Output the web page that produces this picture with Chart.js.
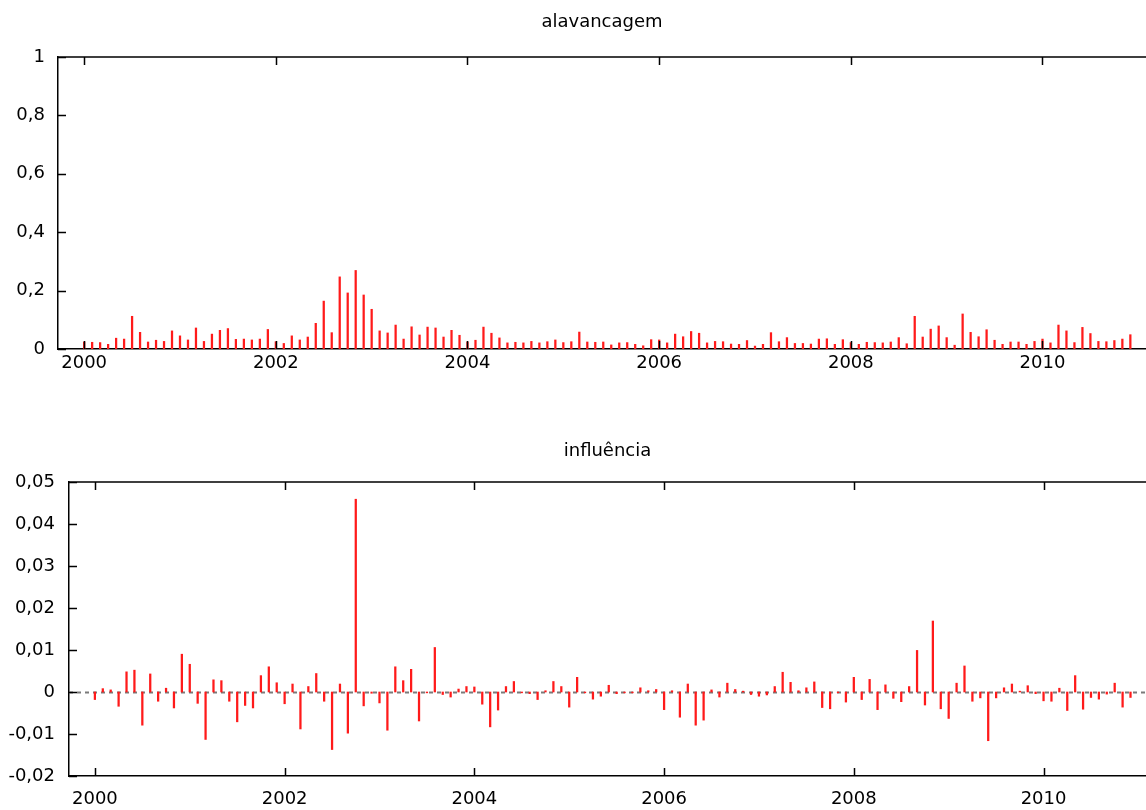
<!DOCTYPE html>
<html>
<head>
<meta charset="utf-8">
<title>alavancagem e influência</title>
<script src="https://cdn.jsdelivr.net/npm/chart.js@4.4.1/dist/chart.umd.min.js"></script>
<style>
  html, body { margin: 0; padding: 0; background: #fff; }
  #wrap { position: relative; width: 1146px; height: 810px; overflow: hidden; }
  canvas { position: absolute; left: 0; }
</style>
</head>
<body>
<div id="wrap">
  <canvas id="lev" width="1146" height="400" style="top:0px"></canvas>
  <canvas id="inf" width="1146" height="410" style="top:400px"></canvas>
</div>
<script>
// Monthly observations, 2000:01 to 2010:12
const startYear = 2000;
const nObs = 132;
const months = Array.from({ length: nObs }, (_, i) => startYear + i / 12);

// Year ticks shared by both panels
const yearTicks = [2000, 2002, 2004, 2006, 2008, 2010];
const yearLabels = ['2000', '2002', '2004', '2006', '2008', '2010'];

// Leverage (alavancagem)
const alavancagem = [
  0.024, 0.023, 0.022, 0.016, 0.037, 0.034, 0.112, 0.057, 0.024, 0.030, 0.026, 0.062,
  0.045, 0.031, 0.072, 0.026, 0.051, 0.064, 0.070, 0.033, 0.034, 0.031, 0.034, 0.067,
  0.025, 0.019, 0.045, 0.031, 0.041, 0.088, 0.164, 0.056, 0.247, 0.192, 0.269, 0.185,
  0.136, 0.062, 0.055, 0.082, 0.034, 0.076, 0.048, 0.075, 0.072, 0.041, 0.064, 0.047,
  0.024, 0.030, 0.075, 0.054, 0.038, 0.021, 0.023, 0.021, 0.026, 0.021, 0.025, 0.031,
  0.022, 0.025, 0.058, 0.024, 0.023, 0.024, 0.014, 0.021, 0.022, 0.016, 0.011, 0.032,
  0.031, 0.021, 0.051, 0.042, 0.060, 0.054, 0.021, 0.026, 0.025, 0.017, 0.016, 0.029,
  0.010, 0.016, 0.056, 0.025, 0.039, 0.019, 0.019, 0.017, 0.034, 0.035, 0.016, 0.032,
  0.022, 0.016, 0.023, 0.022, 0.021, 0.024, 0.039, 0.018, 0.112, 0.041, 0.068, 0.079,
  0.039, 0.013, 0.120, 0.057, 0.042, 0.066, 0.030, 0.016, 0.024, 0.024, 0.016, 0.026,
  0.034, 0.021, 0.082, 0.062, 0.022, 0.074, 0.053, 0.026, 0.025, 0.029, 0.034, 0.049
];

// Influence (influência)
const influencia = [
  -0.0018, 0.0008, 0.0005, -0.0034, 0.0048, 0.0052, -0.0079, 0.0043, -0.0022, 0.0009, -0.0038, 0.0090,
  0.0066, -0.0027, -0.0113, 0.0029, 0.0027, -0.0022, -0.0071, -0.0032, -0.0038, 0.0039, 0.0060, 0.0022,
  -0.0028, 0.0019, -0.0088, 0.0013, 0.0044, -0.0022, -0.0137, 0.0019, -0.0098, 0.0459, -0.0033, -0.0003,
  -0.0026, -0.0091, 0.0060, 0.0027, 0.0054, -0.0069, -0.0002, 0.0106, -0.0006, -0.0012, 0.0007, 0.0013,
  0.0012, -0.0029, -0.0083, -0.0043, 0.0013, 0.0025, -0.0002, -0.0004, -0.0018, 0.0003, 0.0025, 0.0013,
  -0.0036, 0.0035, -0.0002, -0.0017, -0.0010, 0.0016, -0.0004, -0.0002, -0.0002, 0.0010, 0.0003, 0.0006,
  -0.0042, 0.0003, -0.0060, 0.0019, -0.0079, -0.0067, 0.0005, -0.0012, 0.0021, 0.0006, 0.0002, -0.0006,
  -0.0010, -0.0007, 0.0013, 0.0047, 0.0023, 0.0003, 0.0010, 0.0024, -0.0037, -0.0040, -0.0002, -0.0024,
  0.0035, -0.0018, 0.0030, -0.0042, 0.0017, -0.0015, -0.0023, 0.0013, 0.0099, -0.0031, 0.0169, -0.0040,
  -0.0063, 0.0021, 0.0062, -0.0022, -0.0014, -0.0116, -0.0014, 0.0010, 0.0019, 0.0002, 0.0015, -0.0004,
  -0.0021, -0.0022, 0.0009, -0.0044, 0.0039, -0.0041, -0.0013, -0.0017, -0.0005, 0.0021, -0.0036, -0.0013
];

// Y tick values and their labels (decimal comma)
const levTicks = [0, 0.2, 0.4, 0.6, 0.8, 1];
const levLabels = ['0', '0,2', '0,4', '0,6', '0,8', '1'];
const infTicks = [-0.02, -0.01, 0, 0.01, 0.02, 0.03, 0.04, 0.05];
const infLabels = ['-0,02', '-0,01', '0', '0,01', '0,02', '0,03', '0,04', '0,05'];

const FONT = 'DejaVu Sans';
const FONT_SIZE = 18;
const LINE_H = 1.2;
const INK = '#000000';

// Frame: top border, inward tick marks and optional dashed zero line
const framePlugin = {
  id: 'frame',
  beforeDatasetsDraw(chart, args, opts) {
    if (!opts.zeroLine) return;
    const { ctx, chartArea, scales } = chart;
    const y0 = Math.round(scales.y.getPixelForValue(0)) + 0.5;
    ctx.save();
    ctx.strokeStyle = '#7a7a7a';
    ctx.lineWidth = 2;
    ctx.setLineDash([4, 4]);
    ctx.beginPath();
    ctx.moveTo(chartArea.left, y0);
    ctx.lineTo(chartArea.right, y0);
    ctx.stroke();
    ctx.restore();
  },
  afterDraw(chart, args, opts) {
    const { ctx, chartArea, scales } = chart;
    const { left, top, right, bottom } = chartArea;
    const len = opts.tickLength || 8;
    ctx.save();
    ctx.strokeStyle = INK;
    ctx.lineWidth = 1.5;
    ctx.beginPath();
    ctx.moveTo(left, top);
    ctx.lineTo(right, top);
    scales.x.ticks.forEach(t => {
      const px = Math.round(scales.x.getPixelForValue(t.value)) + 0.5;
      ctx.moveTo(px, bottom);
      ctx.lineTo(px, bottom - len);
      ctx.moveTo(px, top);
      ctx.lineTo(px, top + len);
    });
    scales.y.ticks.forEach(t => {
      const py = Math.round(scales.y.getPixelForValue(t.value)) + 0.5;
      ctx.moveTo(left, py);
      ctx.lineTo(left + len, py);
    });
    ctx.stroke();
    ctx.restore();
  }
};

function panel(id, cfg) {
  const canvas = document.getElementById(id);
  const H = canvas.height;
  const titleH = FONT_SIZE * LINE_H;
  return new Chart(canvas, {
    type: 'bar',
    data: {
      datasets: [{
        data: months.map((m, i) => ({ x: m, y: cfg.values[i] })),
        backgroundColor: '#ff1a1a',
        borderWidth: 0,
        barThickness: 1.6
      }]
    },
    options: {
      responsive: false,
      animation: false,
      devicePixelRatio: 1,
      layout: { padding: 0 },
      plugins: {
        legend: { display: false },
        tooltip: { enabled: false },
        title: {
          display: true,
          text: cfg.title,
          fullSize: false,
          color: INK,
          font: { family: FONT, size: FONT_SIZE, weight: 'normal', lineHeight: LINE_H },
          padding: { top: cfg.titleMid - titleH / 2, bottom: cfg.areaTop - cfg.titleMid - titleH / 2 }
        },
        frame: { zeroLine: cfg.zeroLine, tickLength: 8 }
      },
      scales: {
        x: {
          type: 'linear',
          min: 1999.727,
          max: 2011.08,
          offset: false,
          grid: { display: false, drawTicks: false },
          border: { display: true, color: INK, width: 1.5 },
          ticks: {
            padding: cfg.xPad,
            color: INK,
            font: { family: FONT, size: FONT_SIZE },
            autoSkip: false,
            maxRotation: 0,
            callback: (v, i) => yearLabels[i]
          },
          afterBuildTicks: s => { s.ticks = yearTicks.map(v => ({ value: v })); },
          afterFit: s => { s.height = H - cfg.areaBottom; }
        },
        y: {
          type: 'linear',
          min: cfg.yTicks[0],
          max: cfg.yTicks[cfg.yTicks.length - 1],
          grid: { display: false, drawTicks: false },
          border: { display: true, color: INK, width: 1.5 },
          ticks: {
            padding: cfg.yPad,
            color: INK,
            font: { family: FONT, size: FONT_SIZE },
            autoSkip: false,
            callback: (v, i) => cfg.yLabels[i]
          },
          afterBuildTicks: s => { s.ticks = cfg.yTicks.map(v => ({ value: v })); },
          afterFit: s => { s.width = cfg.areaLeft; }
        }
      }
    },
    plugins: [framePlugin]
  });
}

panel('lev', {
  title: 'alavancagem',
  values: alavancagem,
  yTicks: levTicks,
  yLabels: levLabels,
  areaLeft: 58, areaTop: 57, areaBottom: 349,
  titleMid: 22, xPad: 4, yPad: 13,
  zeroLine: false
});

panel('inf', {
  title: 'influência',
  values: influencia,
  yTicks: infTicks,
  yLabels: infLabels,
  areaLeft: 69, areaTop: 82, areaBottom: 376,
  titleMid: 51, xPad: 13, yPad: 14,
  zeroLine: true
});
</script>
</body>
</html>
